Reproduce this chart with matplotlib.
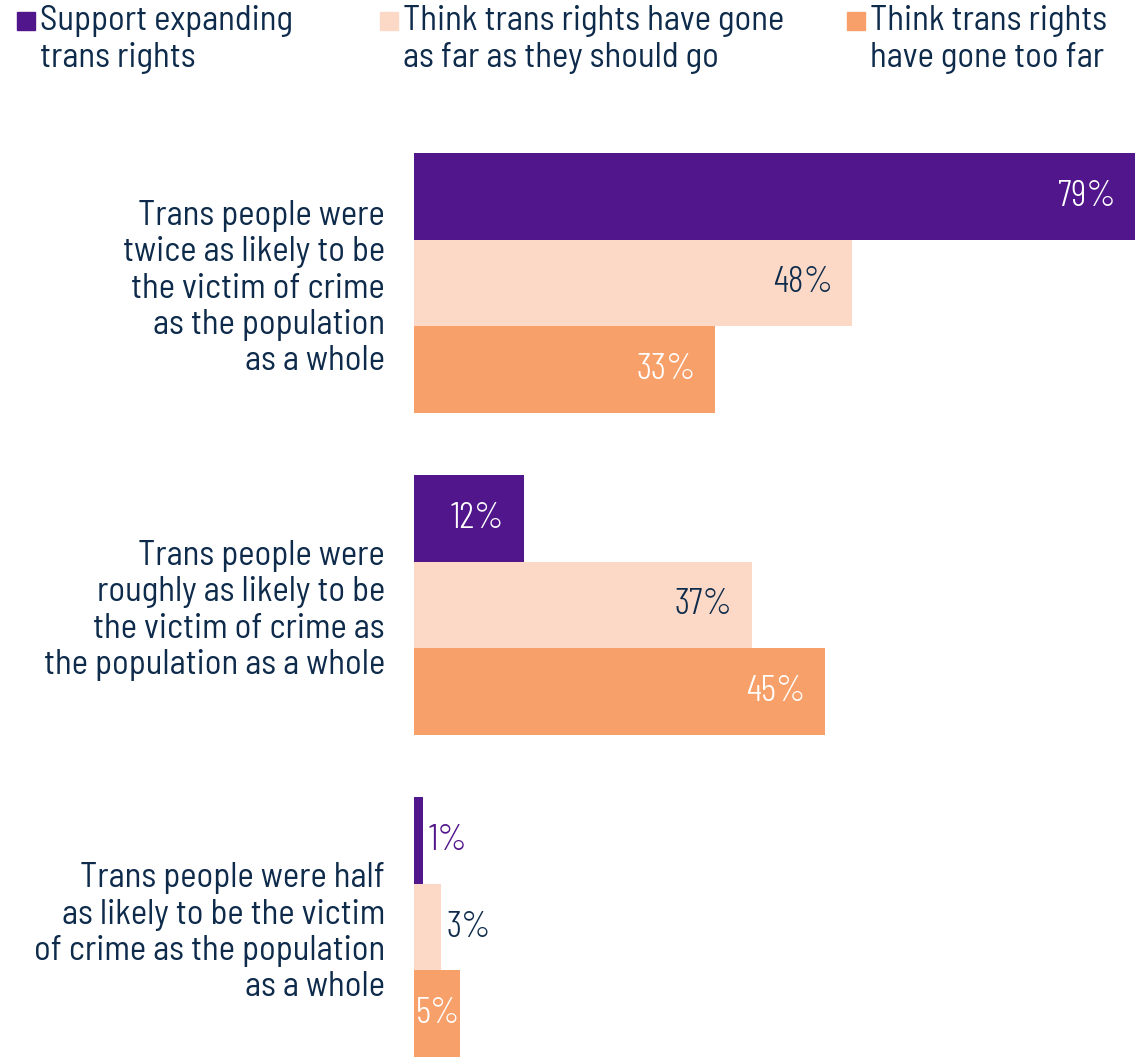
import numpy as np
import matplotlib.pyplot as plt
from matplotlib.patches import Rectangle

# condensed faces, with DejaVu as fallback
label_font = ['Barlow Semi Condensed', 'DejaVu Sans']
value_font = ['Barlow Condensed', 'DejaVu Sans']
plt.rcParams['font.family'] = label_font

categories = [
    "Trans people were\ntwice as likely to be\nthe victim of crime\nas the population\nas a whole",
    "Trans people were\nroughly as likely to be\nthe victim of crime as\nthe population as a whole",
    "Trans people were half\nas likely to be the victim\nof crime as the population\nas a whole",
]
series = ["Support expanding\ntrans rights",
          "Think trans rights have gone\nas far as they should go",
          "Think trans rights\nhave gone too far"]
support = [79, 12, 1]
as_far = [48, 37, 3]
too_far = [33, 45, 5]

colors = ["#52168c", "#fcd9c6", "#f8a06a"]
navy = "#0e2b4b"
inside_col = ["white", navy, "white"]

fig = plt.figure(figsize=(11.35, 10.57), dpi=100)
ax = fig.add_axes([414 / 1135, 0, 1 - 414 / 1135, 1 - 153 / 1057])

h = 0.269
y = np.arange(len(categories))
vkw = dict(va="center", fontsize=27, family=value_font, weight=300)
for i, vals in enumerate([support, as_far, too_far]):
    yy = y + (i - 1) * h
    ax.barh(yy, vals, height=h, color=colors[i], linewidth=0)
    for yv, v in zip(yy, vals):
        if v >= 10:
            ax.annotate(f"{v}%", (v, yv), xytext=(-14, 0), textcoords="offset points",
                        ha="right", color=inside_col[i], **vkw)
        elif v >= 5:
            ax.annotate(f"{v}%", (0, yv), xytext=(1, 0), textcoords="offset points",
                        ha="left", color=inside_col[i], **vkw)
        else:
            c = colors[0] if i == 0 else navy
            ax.annotate(f"{v}%", (v, yv), xytext=(4, 0), textcoords="offset points",
                        ha="left", color=c, **vkw)

ax.set_xlim(0, 79)
ax.set_ylim(2 + 1.5 * h, -1.5 * h)
ax.set_yticks(y)
ax.set_yticklabels(categories, fontsize=25, color=navy, linespacing=1.17, ha="right")
ax.tick_params(axis="y", length=0, pad=21)
ax.set_xticks([])
for s in ax.spines.values():
    s.set_visible(False)

# legend by hand, marker next to first line
leg_x = [17, 380, 847]
for i, name in enumerate(series):
    x0 = leg_x[i] / 1135
    fig.patches.append(Rectangle((x0, 1 - 30 / 1057), 18 / 1135, 18 / 1057,
                                 transform=fig.transFigure, color=colors[i],
                                 figure=fig))
    fig.text(x0 + 23 / 1135, 1 - 5 / 1057, name, ha="left", va="top",
             fontsize=25, color=navy, linespacing=1.22)

fig.savefig("out.png", dpi=100)
